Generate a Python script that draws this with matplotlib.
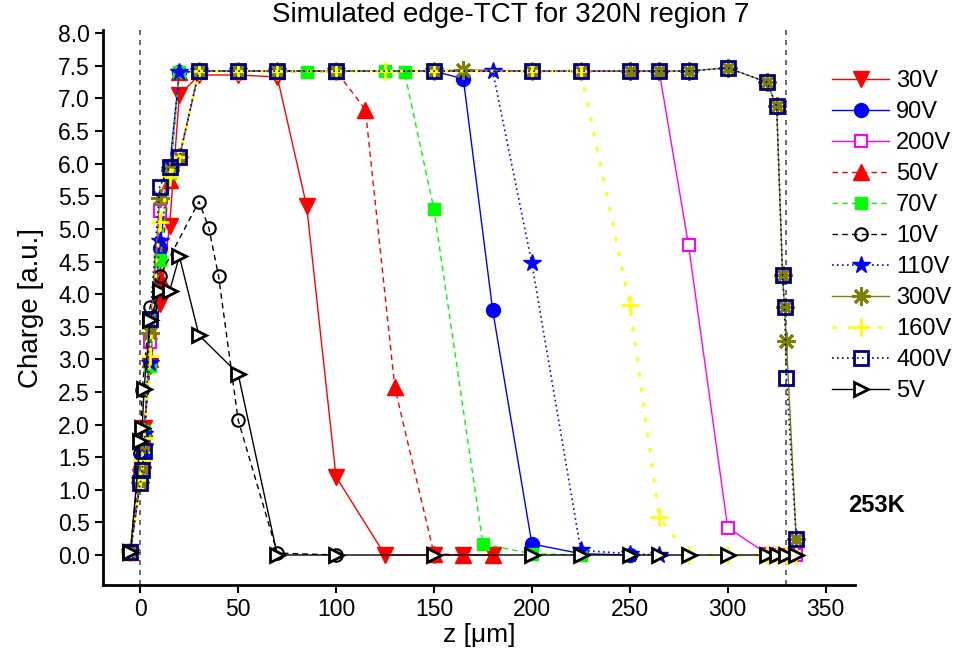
import matplotlib
matplotlib.use('Agg')
import matplotlib.pyplot as plt

plt.rcParams['font.family'] = ['Liberation Sans', 'DejaVu Sans']

# rise of the profile (shared positions, um)
rise_x = [-5, 0, 1, 2, 5, 10, 15, 20]

x_30 = rise_x + [30, 50, 70, 85, 100, 125, 150, 165, 180]
y_30 = [0.05, 1.2, 1.55, 1.95, 2.9, 3.85, 5.05, 7.05] + [7.36, 7.36, 7.33, 5.35, 1.2, 0.0, 0.0, 0.0, 0.0]

x_90 = rise_x + [30, 50, 70, 100, 150, 165, 180, 200, 225, 250]
y_90 = [0.05, 1.15, 1.5, 1.9, 2.95, 4.7, 5.95, 7.4] + [7.42, 7.42, 7.42, 7.42, 7.42, 7.3, 3.75, 0.17, 0.02, 0.0]

x_200 = rise_x + [30, 50, 70, 100, 150, 200, 225, 250, 265, 280, 300, 320, 325, 330, 335]
y_200 = [0.05, 1.15, 1.4, 1.75, 3.27, 5.27, 5.85, 6.1] + [7.42, 7.42, 7.42, 7.42, 7.42, 7.42, 7.42, 7.42, 7.42, 4.75, 0.42, 0.02, 0.0, 0.0, 0.0]

x_50 = rise_x + [30, 50, 70, 100, 115, 130, 150, 165, 180]
y_50 = [0.05, 1.2, 1.55, 1.95, 3.0, 4.25, 5.75, 7.4] + [7.42, 7.42, 7.42, 7.42, 6.83, 2.57, 0.02, 0.0, 0.0]

x_70 = rise_x + [30, 50, 70, 85, 100, 125, 135, 150, 175, 200, 225]
y_70 = [0.05, 1.15, 1.5, 1.9, 2.9, 4.52, 5.85, 7.4] + [7.42, 7.42, 7.42, 7.4, 7.42, 7.42, 7.4, 5.3, 0.17, 0.02, 0.0]

x_10 = [-5, 0, 1, 5, 10, 30, 35, 40, 50, 70, 100]
y_10 = [0.05, 1.56, 2.53, 3.8, 4.28, 5.42, 5.02, 4.28, 2.07, 0.03, 0.0]

x_110 = rise_x + [30, 50, 70, 100, 150, 180, 200, 225, 250, 265]
y_110 = [0.05, 1.15, 1.5, 1.85, 2.95, 4.82, 5.9, 7.4] + [7.42, 7.42, 7.42, 7.42, 7.42, 7.42, 4.47, 0.07, 0.02, 0.0]

x_300 = rise_x + [30, 50, 70, 100, 150, 165, 200, 225, 250, 265, 280, 300, 320, 325, 328, 329, 330, 335]
y_300 = [0.05, 1.12, 1.35, 1.7, 3.4, 5.47, 5.9, 6.1] + [7.42, 7.42, 7.42, 7.42, 7.42, 7.44, 7.42, 7.42, 7.42, 7.42, 7.42, 7.47, 7.25, 6.88, 4.3, 3.8, 3.28, 0.25]

x_160 = rise_x + [30, 50, 70, 100, 125, 150, 200, 225, 250, 265, 280, 300, 320, 325, 330, 335]
y_160 = [0.05, 1.15, 1.45, 1.8, 3.05, 5.1, 5.8, 6.1] + [7.42, 7.42, 7.42, 7.42, 7.42, 7.42, 7.42, 7.42, 3.83, 0.58, 0.0, 0.0, 0.0, 0.0, 0.0, 0.0]

x_400 = rise_x + [30, 50, 70, 100, 150, 200, 225, 250, 265, 280, 300, 320, 325, 328, 329, 330, 335]
y_400 = [0.05, 1.1, 1.3, 1.6, 3.62, 5.65, 5.95, 6.1] + [7.42, 7.42, 7.42, 7.42, 7.42, 7.42, 7.42, 7.42, 7.42, 7.42, 7.47, 7.25, 6.88, 4.3, 3.8, 2.72, 0.25]

x_5 = [-5, 0, 1, 2, 5, 10, 15, 20, 30, 50, 70, 100, 150, 200, 225, 250, 265, 280, 300, 320, 325, 330, 335]
y_5 = [0.05, 1.75, 1.95, 2.55, 3.6, 4.05, 4.05, 4.58, 3.37, 2.78, 0.0, 0.0, 0.0, 0.0, 0.0, 0.0, 0.0, 0.0, 0.0, 0.0, 0.0, 0.0, 0.0]

fig = plt.figure(figsize=(9.68, 6.53), dpi=100)
# axes box: x 103..855 px, y 30..585 px
ax = fig.add_axes([103 / 968, 1 - 585 / 653, 752 / 968, 555 / 653])

ax.axvline(0, color='#505050', ls=(0, (3, 3)), lw=1.2, zorder=1)
ax.axvline(330, color='#505050', ls=(0, (3, 3)), lw=1.2, zorder=1)

ax.plot(x_30, y_30, color='#FF0000', ls='-', lw=1, marker='v', ms=11, label='30V')
ax.plot(x_90, y_90, color='#0000FF', ls='-', lw=1, marker='o', ms=10, label='90V')
ax.plot(x_200, y_200, color='#FF00FF', ls='-', lw=1, marker='s', ms=8, mfc='white', mew=1.5, label='200V')
ax.plot(x_50, y_50, color='#FF0000', ls=(0, (4, 3)), lw=1, marker='^', ms=11, label='50V')
ax.plot(x_70, y_70, color='#00FF00', ls=(0, (4, 3)), lw=1, marker='s', ms=9, label='70V')
ax.plot(x_10, y_10, color='black', ls=(0, (4, 3)), lw=1, marker='o', ms=9, mfc='none', mew=1.5, label='10V')
ax.plot(x_110, y_110, color='#0000FF', ls=(0, (1, 2)), lw=1.2, marker='*', ms=13, label='110V')
ax.plot(x_300, y_300, color='#808000', ls='-', lw=1, marker=(8, 2, 0), ms=13, mew=2, label='300V')
ax.plot(x_160, y_160, color='#FFFF00', ls=(0, (1.5, 4)), lw=2, marker='+', ms=13, mew=2, label='160V')
ax.plot(x_400, y_400, color='#000080', ls=(0, (1, 2)), lw=1.2, marker='s', ms=10, mfc='none', mew=2, label='400V')
ax.plot(x_5, y_5, color='black', ls='-', lw=1, marker='>', ms=10, mfc='white', mew=2, label='5V')

ax.set_xlim(-19, 365)
ax.set_ylim(-0.46, 8.05)
ax.set_xticks(range(0, 351, 50))
ax.set_yticks([i * 0.5 for i in range(17)])
ax.set_yticklabels(['%.1f' % (i * 0.5) for i in range(17)])
ax.tick_params(direction='out', length=6, width=1.5, labelsize=16.5)
for s in ['top', 'right']:
    ax.spines[s].set_visible(False)
for s in ['left', 'bottom']:
    ax.spines[s].set_linewidth(2)

ax.set_xlabel('z [\u03bcm]', fontsize=19, labelpad=1)
ax.set_ylabel('Charge [a.u.]', fontsize=20, labelpad=10)
fig.text(511 / 968, 1 - 15 / 653, 'Simulated edge-TCT for 320N region 7', fontsize=20,
         ha='center', va='center')

fig.legend(loc='upper left', bbox_to_anchor=(0.838, 0.925), frameon=False,
           fontsize=17, handlelength=2.4, labelspacing=0.38, handletextpad=0.3)
fig.text(848 / 968, 1 - 505 / 653, '253K', fontsize=17, fontweight='bold', va='center')

fig.savefig('out.png', dpi=100)
